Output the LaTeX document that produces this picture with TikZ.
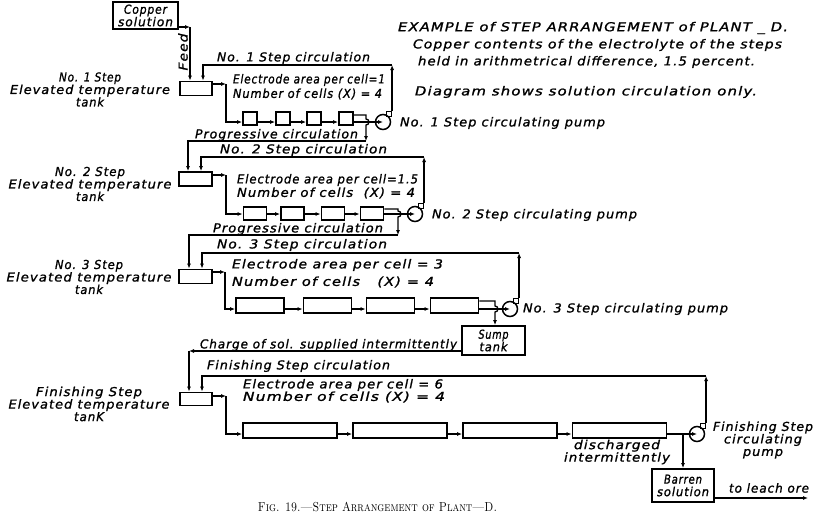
\documentclass[tikz,border=0pt]{standalone}
\usepackage{fontspec}
\usepackage{graphicx}
\usetikzlibrary{arrows.meta}
\newfontfamily\hand[LetterSpace=8,FakeBold=1.2]{DejaVu Sans}
\newcommand\Wd[2]{\resizebox{#1pt}{\height}{#2}}
\tikzset{
  lab/.style={inner sep=0pt, font=\hand\itshape\fontsize{12.3}{12.5}\selectfont, align=center},
  box/.style={draw, line width=1.8pt, inner sep=0pt},
  pipe/.style={line width=1.3pt},
  arr/.style={line width=1.3pt, -{Latex[length=5pt,width=4pt]}},
  pumpc/.style={draw, circle, line width=1.5pt, minimum size=15pt, inner sep=0pt},
  outl/.style={draw, line width=1.2pt, minimum size=5pt, inner sep=0pt},
}
\begin{document}
\begin{tikzpicture}[x=1pt,y=-1pt]
\useasboundingbox (0,0) rectangle (817,517);

% ---------- texts at top right ----------
\node[lab] (title) at (593,28) {\Wd{390}{EXAMPLE of STEP ARRANGEMENT of PLANT \_ D.}};
\node[lab] (note1) at (597.5,45) {\Wd{369}{Copper contents of the electrolyte of the steps}};
\node[lab] (note2) at (586.5,62) {\Wd{337}{held in arithmetrical difference, 1.5 percent.}};
\node[lab] (note3) at (586,92) {\Wd{342}{Diagram shows solution circulation only.}};

% ---------- copper solution and feed ----------
\node[box, lab, minimum width=65pt, minimum height=27pt] (cu) at (145.5,15.5) {\Wd{43}{Copper}\\\Wd{55}{solution}};
\node[lab, rotate=90] (feed) at (183,52) {\Wd{37}{Feed}};

% ---------- tanks ----------
\node[box, minimum width=32pt, minimum height=14pt] (t1) at (196,88.5) {};
\node[box, minimum width=33pt, minimum height=14pt] (t2) at (195.5,179) {};
\node[box, minimum width=33pt, minimum height=14pt] (t3) at (195.5,276.5) {};
\node[box, minimum width=32pt, minimum height=13pt] (t4) at (196,399) {};

% ---------- tank labels ----------
\node[lab] (lab1) at (90,89.5) {\Wd{62}{No. 1 Step}\\\Wd{160}{Elevated temperature}\\\Wd{28}{tank}};
\node[lab] (lab2) at (90,184) {\Wd{70}{No. 2 Step}\\\Wd{163}{Elevated temperature}\\\Wd{28}{tank}};
\node[lab] (lab3) at (89,277) {\Wd{68}{No. 3 Step}\\\Wd{165}{Elevated temperature}\\\Wd{28}{tank}};
\node[lab] (lab4) at (89,404) {\Wd{106}{Finishing Step}\\\Wd{161}{Elevated temperature}\\\Wd{30}{tanK}};

% ---------- row texts ----------
\node[lab] (c1t) at (293.5,58) {\Wd{153}{No. 1 Step circulation}};
\node[lab] (e1) at (309,80) {\Wd{152}{Electrode area per cell=1}};
\node[lab] (n1) at (307.5,94) {\Wd{149}{Number of cells (X) = 4}};
\node[lab] (pr1) at (276.5,135) {\Wd{163}{Progressive circulation}};
\node[lab] (c2t) at (303.5,150) {\Wd{167}{No. 2 Step circulation}};
\node[lab] (e2) at (327.5,180) {\Wd{181}{Electrode area per cell=1.5}};
\node[lab] (n2) at (326,193) {\Wd{178}{Number of cells \ (X) = 4}};
\node[lab] (pr2) at (298,229) {\Wd{170}{Progressive circulation}};
\node[lab] (c3t) at (302,245) {\Wd{170}{No. 3 Step circulation}};
\node[lab] (e3) at (337.5,265) {\Wd{211}{Electrode area per cell = 3}};
\node[lab] (n3) at (333,282) {\Wd{202}{Number of cells \ \ (X) = 4}};
\node[lab] (charge) at (328.5,345) {\Wd{257}{Charge of sol. supplied intermittently}};
\node[lab] (c4t) at (298.5,366) {\Wd{183}{Finishing Step circulation}};
\node[lab] (e4) at (343,385) {\Wd{200}{Electrode area per cell = 6}};
\node[lab] (n4) at (344,397) {\Wd{202}{Number of cells (X) = 4}};

% ---------- cells ----------
\foreach \i/\x in {1/250,2/283,3/314,4/346}
  \node[box, minimum width=14pt, minimum height=13pt] (r1c\i) at (\x,118.5) {};
\foreach \i/\x in {1/255,2/292.5,3/333,4/372}
  \node[box, minimum width=23pt, minimum height=13pt] (r2c\i) at (\x,213.5) {};
\foreach \i/\x in {1/260,2/327.5,3/390.5,4/454.5}
  \node[box, minimum width=48pt, minimum height=15pt] (r3c\i) at (\x,305.5) {};
\foreach \i/\x in {1/290,2/400,3/510,4/619.5}
  \node[box, minimum width=94pt, minimum height=15pt] (r4c\i) at (\x,430.5) {};

% ---------- pumps ----------
\node[outl] (o1) at (389,114) {};
\node[pumpc] (p1) at (383,122) {};
\node[outl] (o2) at (421,206) {};
\node[pumpc] (p2) at (415,214) {};
\node[outl] (o3) at (516,301) {};
\node[pumpc] (p3) at (510,309) {};
\node[outl] (o4) at (703,426) {};
\node[pumpc] (p4) at (697,434) {};
\node[lab] (pl1) at (502.5,123) {\Wd{205}{No. 1 Step circulating pump}};
\node[lab] (pl2) at (534.5,215) {\Wd{205}{No. 2 Step circulating pump}};
\node[lab] (pl3) at (625.5,309) {\Wd{205}{No. 3 Step circulating pump}};
\node[lab] (pl4) at (763,440) {\Wd{100}{Finishing Step}\\\Wd{78}{circulating}\\\Wd{40}{pump}};

% ---------- sump, barren ----------
\node[box, lab, minimum width=63pt, minimum height=29pt] (sump) at (493.5,340.5) {\Wd{30}{Sump}\\\Wd{28}{tank}};
\node[box, lab, minimum width=62pt, minimum height=33pt] (barren) at (683,485.5) {\Wd{38}{Barren}\\\Wd{52}{solution}};
\node[lab] (dis) at (617,452) {\Wd{86}{discharged}\\\Wd{106}{intermittently}};
\node[lab] (leach) at (769,488) {\Wd{80}{to leach ore}};

% ---------- caption ----------
\node[inner sep=0pt, font=\fontsize{13}{14}\selectfont] (cap) at (377.5,507) {\Wd{239}{\textsc{Fig. 19.---Step Arrangement of Plant---D.}}};

% ---------- level coordinates ----------
\coordinate (L1) at (0,122);
\coordinate (L2) at (0,214);
\coordinate (L3) at (0,309);
\coordinate (L4) at (0,434);

% ---------- feed ----------
\coordinate (f1) at (190,27);
\draw[arr] (cu.east |- f1) -- (f1);
\draw[arr] (f1) -- (t1.north -| f1);

% ---------- row 1 ----------
\coordinate (k1) at (203,65);
\draw[arr] (o1.north east) -- (o1.north east |- k1);
\draw[arr] (o1.north east |- k1) -- (k1) -- (t1.north -| k1);
\coordinate (q1) at (226,84);
\draw[arr] (t1.east |- q1) -- (q1);
\draw[arr] (q1) -- (q1 |- L1) -- (r1c1.west |- L1);
\foreach \i/\j in {1/2,2/3,3/4}
  \draw[arr] (r1c\i.east |- L1) -- (r1c\j.west |- L1);
\draw[arr] (r1c4.east |- L1) -- (p1.center);
\coordinate (g1) at (366,115);
\coordinate (h1) at (188,141);
\draw[arr] (r1c4.east |- g1) -- (g1) -- ++(0,4) arc[start angle=-90,end angle=90,radius=3] -- (g1 |- h1);
\draw[arr] (g1 |- h1) -- (h1) -- (t2.north -| h1);

% ---------- row 2 ----------
\coordinate (k2) at (201,157);
\draw[arr] (o2.north east) -- (o2.north east |- k2);
\draw[arr] (o2.north east |- k2) -- (k2) -- (t2.north -| k2);
\coordinate (q2) at (226,175);
\draw[arr] (t2.east |- q2) -- (q2);
\draw[arr] (q2) -- (q2 |- L2) -- (r2c1.west |- L2);
\foreach \i/\j in {1/2,2/3,3/4}
  \draw[arr] (r2c\i.east |- L2) -- (r2c\j.west |- L2);
\draw[arr] (r2c4.east |- L2) -- (p2.center);
\coordinate (g2) at (398,209);
\coordinate (h2) at (189,235);
\draw[arr] (r2c4.east |- g2) -- (g2) -- ++(0,2) arc[start angle=-90,end angle=90,radius=3] -- (g2 |- h2);
\draw[arr] (g2 |- h2) -- (h2) -- (t3.north -| h2);

% ---------- row 3 ----------
\coordinate (k3) at (202,253);
\draw[arr] (o3.north east) -- (o3.north east |- k3);
\draw[arr] (o3.north east |- k3) -- (k3) -- (t3.north -| k3);
\coordinate (q3) at (225,272);
\draw[arr] (t3.east |- q3) -- (q3);
\draw[arr] (q3) -- (q3 |- L3) -- (r3c1.west |- L3);
\foreach \i/\j in {1/2,2/3,3/4}
  \draw[arr] (r3c\i.east |- L3) -- (r3c\j.west |- L3);
\draw[arr] (r3c4.east |- L3) -- (p3.center);
\coordinate (g3) at (495,301);
\draw[arr] (r3c4.east |- g3) -- (g3) -- ++(0,5) arc[start angle=-90,end angle=90,radius=3] -- (sump.north -| g3);

% ---------- charge ----------
\coordinate (ch) at (189,351);
\draw[arr] (sump.west |- ch) -- (ch);
\draw[arr] (ch) -- (t4.north -| ch);

% ---------- row 4 ----------
\coordinate (k4) at (202,376);
\draw[arr] (o4.north east) -- (o4.north east |- k4);
\draw[arr] (o4.north east |- k4) -- (k4) -- (t4.north -| k4);
\coordinate (q4) at (226,396);
\draw[arr] (t4.east |- q4) -- (q4);
\draw[arr] (q4) -- (q4 |- L4) -- (r4c1.west |- L4);
\foreach \i/\j in {1/2,2/3,3/4}
  \draw[arr] (r4c\i.east |- L4) -- (r4c\j.west |- L4);
\draw[arr] (r4c4.east |- L4) -- (p4.center);
\coordinate (bd) at (683,434);
\draw[arr] (bd) -- (barren.north -| bd);
\coordinate (le) at (808,498);
\draw[arr] (barren.east |- le) -- (le);
\end{tikzpicture}
\end{document}
